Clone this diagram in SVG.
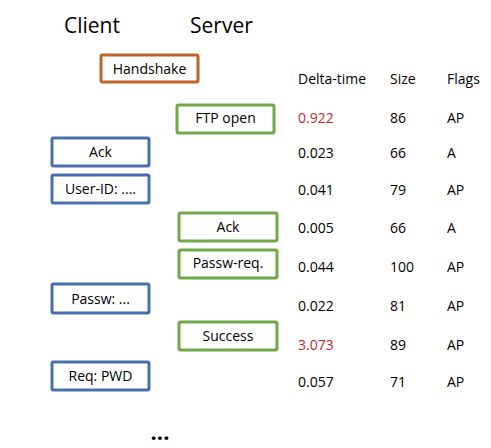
<svg xmlns="http://www.w3.org/2000/svg" width="491" height="448" viewBox="0 0 491 448">
<style>
text{font-family:"Open Sans","Noto Sans","Liberation Sans",sans-serif;fill:#000}
.hd{font-size:21px}
.t{font-size:14px}
.c{text-anchor:middle}
.red{fill:#C0282D}
rect{fill:#fff;stroke-width:3}
.cl{stroke:#4A6FAF}
.sv{stroke:#72A84C}
.hs{stroke:#BD6428}
</style>
<rect width="491" height="448" fill="#fff" stroke="none"/>
<text class="hd" x="64" y="33">Client</text>
<text class="hd" x="190" y="33">Server</text>
<g id="connectors"></g>
<g id="handshake"><rect class="hs" x="101" y="55" width="97" height="27" rx="1.5"/><text class="t c" x="149.5" y="74">Handshake</text></g>
<g id="ftp-open"><rect class="sv" x="177" y="105" width="97" height="28" rx="1.5"/><text class="t c" x="225.5" y="123">FTP open</text></g>
<g id="ack-client"><rect class="cl" x="52" y="138" width="97" height="28" rx="1.5"/><text class="t c" x="100.5" y="157">Ack</text></g>
<g id="user-id"><rect class="cl" x="52" y="175" width="97" height="28" rx="1.5"/><text class="t c" x="100.5" y="194">User-ID: ....</text></g>
<g id="ack-server"><rect class="sv" x="179" y="213" width="98" height="28" rx="1.5"/><text class="t c" x="228" y="232">Ack</text></g>
<g id="passw-req"><rect class="sv" x="179" y="250" width="98" height="28" rx="1.5"/><text class="t c" x="228" y="268">Passw-req.</text></g>
<g id="passw"><rect class="cl" x="52" y="284" width="97" height="29" rx="1.5"/><text class="t c" x="100.5" y="304">Passw: ...</text></g>
<g id="success"><rect class="sv" x="179" y="322" width="98" height="28" rx="1.5"/><text class="t c" x="228" y="341">Success</text></g>
<g id="req-pwd"><rect class="cl" x="52" y="362" width="97" height="28" rx="1.5"/><text class="t c" x="100.5" y="381">Req: PWD</text></g>
<text x="160" y="440" style="font-size:22px;font-weight:bold" class="c">...</text>
<g id="table" class="t">
<text class="t" x="298" y="84">Delta-time</text><text class="t" x="390" y="84">Size</text><text class="t" x="447" y="84">Flags</text>
<text class="t red" x="298" y="123">0.922</text><text class="t" x="390" y="123">86</text><text class="t" x="447" y="123">AP</text>
<text class="t" x="298" y="158">0.023</text><text class="t" x="390" y="158">66</text><text class="t" x="447" y="158">A</text>
<text class="t" x="298" y="195">0.041</text><text class="t" x="390" y="195">79</text><text class="t" x="447" y="195">AP</text>
<text class="t" x="298" y="233">0.005</text><text class="t" x="390" y="233">66</text><text class="t" x="447" y="233">A</text>
<text class="t" x="298" y="272">0.044</text><text class="t" x="390" y="272">100</text><text class="t" x="447" y="272">AP</text>
<text class="t" x="298" y="311">0.022</text><text class="t" x="390" y="311">81</text><text class="t" x="447" y="311">AP</text>
<text class="t red" x="298" y="350">3.073</text><text class="t" x="390" y="350">89</text><text class="t" x="447" y="350">AP</text>
<text class="t" x="298" y="387">0.057</text><text class="t" x="390" y="387">71</text><text class="t" x="447" y="387">AP</text>
</g>
</svg>
